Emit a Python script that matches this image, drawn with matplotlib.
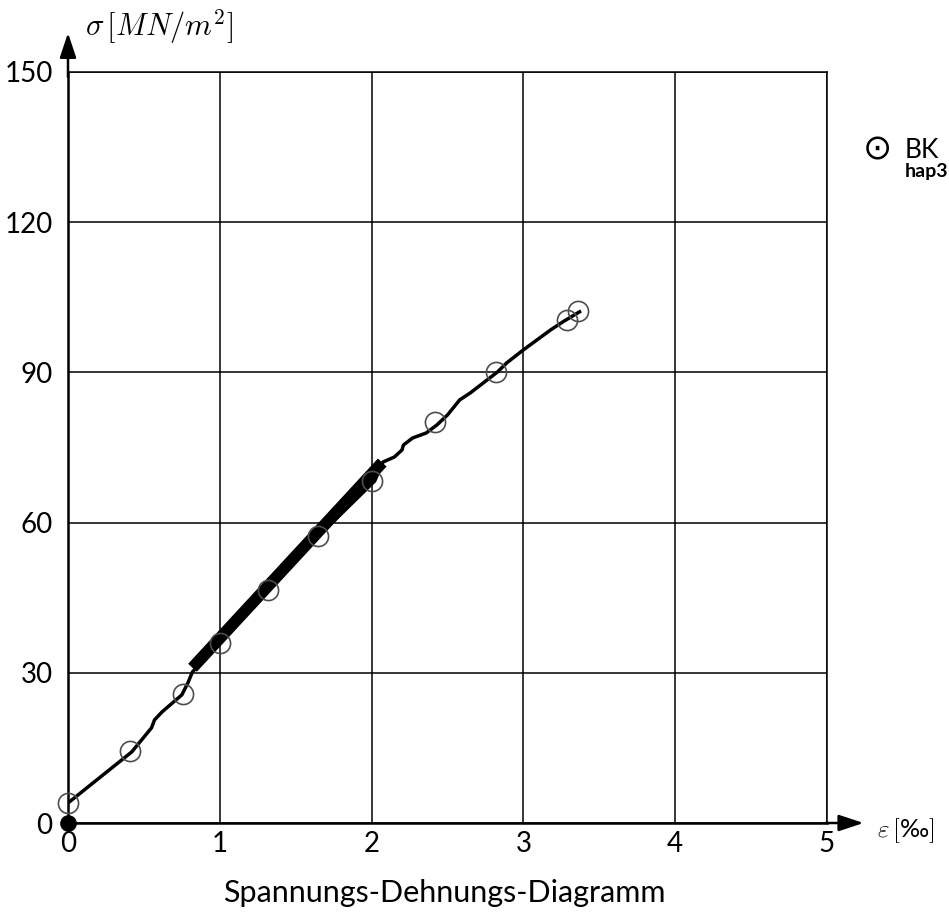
import matplotlib
matplotlib.use("Agg")
import matplotlib.pyplot as plt

plt.rcParams["mathtext.fontset"] = "cm"
plt.rcParams["font.family"] = ["Lato", "DejaVu Sans"]

# Measured stress-strain curve (strain in per mille, stress in MN/m^2)
curve_eps = [0.00, 0.42, 0.55, 0.57, 0.62, 0.75, 0.79, 0.82, 1.00, 1.32, 1.65, 2.02,
             2.075, 2.15, 2.20, 2.21, 2.27, 2.36, 2.43, 2.50, 2.58, 2.65, 2.83,
             2.89, 3.00, 3.09, 3.18, 3.26, 3.37]
curve_sig = [4.0, 14.2, 19.0, 20.6, 22.2, 25.6, 28.0, 30.2, 36.0, 46.5, 57.3, 68.3,
             72.1, 73.1, 74.5, 75.5, 76.9, 77.9, 79.5, 81.5, 84.5, 85.9, 90.1,
             91.9, 94.5, 96.5, 98.5, 100.1, 102.1]

# Readings marked with circles
point_eps = [0.00, 0.41, 0.76, 1.00, 1.32, 1.65, 2.00, 2.42, 2.82, 3.29, 3.36]
point_sig = [4.0, 14.4, 25.8, 36.0, 46.5, 57.3, 68.3, 80.0, 90.0, 100.5, 102.3]

# Linear fit range used for the modulus
fit_eps = [0.82, 2.07]
fit_sig = [31.0, 72.0]

x_ticks = [0, 1, 2, 3, 4, 5]
y_ticks = [0, 30, 60, 90, 120, 150]

fig = plt.figure(figsize=(9.49, 9.14), dpi=100)
ax = fig.add_axes([68 / 949, 91 / 914, 759 / 949, 751 / 914])
ax.set_xlim(0, 5)
ax.set_ylim(0, 150)

ax.set_xticks(x_ticks)
ax.set_yticks(y_ticks)
ax.set_xticklabels([str(t) for t in x_ticks])
ax.set_yticklabels([str(t) for t in y_ticks])
ax.tick_params(length=0, labelsize=20, pad=6)
ax.tick_params(axis="y", pad=11)
ax.grid(True, color="black", linewidth=1.1)

for side in ("top", "right"):
    ax.spines[side].set_linewidth(1.1)
for side in ("left", "bottom"):
    ax.spines[side].set_linewidth(1.8)

# Axis arrows
arrow = dict(arrowstyle="-|>,head_length=0.75,head_width=0.25", color="black",
             lw=1.8, mutation_scale=20, shrinkA=0, shrinkB=0)
ax.annotate("", xy=(0, 157.8), xytext=(0, 149), xycoords="data",
            arrowprops=arrow, annotation_clip=False)
ax.annotate("", xy=(5.24, 0), xytext=(4.99, 0), xycoords="data",
            arrowprops=arrow, annotation_clip=False)

ax.text(0.11, 157.2, r"$\sigma\,[MN/m^2]$", fontsize=22, ha="left",
        va="baseline", clip_on=False)
ax.text(5.33, -2.8, r"$\varepsilon\,[$‰$]$", fontsize=18, ha="left",
        va="baseline", clip_on=False)

ax.plot(curve_eps, curve_sig, color="black", linewidth=2.5, zorder=3,
        solid_joinstyle="round")
ax.plot(fit_eps, fit_sig, color="black", linewidth=8.5, solid_capstyle="butt", zorder=4)
ax.plot(point_eps, point_sig, linestyle="none", marker="o", markersize=14.5,
        markerfacecolor="none", markeredgecolor="#4d4d4d", markeredgewidth=1.2,
        zorder=5, clip_on=False)
ax.plot([0], [0], marker="o", markersize=11, color="black", zorder=6, clip_on=False)

fig.text(444 / 949, 1 - 902 / 914, "Spannungs-Dehnungs-Diagramm", fontsize=22,
         ha="center", va="baseline")

# Legend entry at the right margin
fig.text(877 / 949, 1 - 149 / 914, "⊙", fontsize=25, ha="center", va="center",
         family="DejaVu Sans")
fig.text(905 / 949, 1 - 158 / 914, "BK", fontsize=19, ha="left", va="baseline")
fig.text(905 / 949, 1 - 177 / 914, "hap3", fontsize=14, ha="left", va="baseline",
         fontweight="bold")

fig.savefig("out.png", dpi=100)
